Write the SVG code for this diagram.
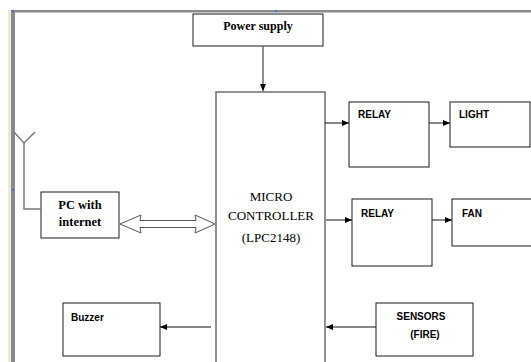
<svg xmlns="http://www.w3.org/2000/svg" width="531" height="362" viewBox="0 0 531 362">
<style>
.box{fill:#fff;stroke:#1a1a1a;stroke-width:1}
.mc{fill:#fff;stroke:#6e6e6e;stroke-width:1.5}
.serif{font-family:"Liberation Serif","Times New Roman",serif;fill:#000}
.sans{font-family:"Liberation Sans",Arial,sans-serif;font-weight:bold;font-size:10px;fill:#000}
.con{stroke:#111;stroke-width:1;fill:none}
</style>
<defs>
<marker id="ah" markerWidth="7" markerHeight="6" refX="7" refY="3" orient="auto" markerUnits="userSpaceOnUse">
<path d="M0,0 L7,3 L0,6 Z" fill="#000"/>
</marker>
</defs>
<rect x="0" y="0" width="531" height="362" fill="#fff"/>
<g id="frame">
<rect x="8" y="10" width="3" height="352" fill="#ece9d8"/>
<rect x="11" y="10" width="4" height="352" fill="#8a8a8a"/>
<rect x="11" y="10" width="520" height="2.5" fill="#8a8a8a"/>
<rect x="12" y="10" width="2" height="2" fill="#3a6fd8"/>
<rect x="275" y="10" width="2" height="2" fill="#3a6fd8"/>
<rect x="12" y="189" width="2" height="2" fill="#3a6fd8"/>
</g>
<g id="power">
<rect class="box" x="193" y="14" width="130" height="32"/>
<text class="serif" x="258" y="30" font-size="12" font-weight="bold" text-anchor="middle">Power supply</text>
</g>
<g id="micro">
<rect class="mc" x="216" y="92" width="109" height="280"/>
<text class="serif" x="271" y="201" font-size="13" text-anchor="middle">MICRO</text>
<text class="serif" x="271" y="220" font-size="13" text-anchor="middle">CONTROLLER</text>
<text class="serif" x="271" y="242" font-size="13" text-anchor="middle">(LPC2148)</text>
</g>
<g id="relay1">
<rect class="box" x="349" y="102" width="80" height="65"/>
<text class="sans" x="358" y="118">RELAY</text>
</g>
<g id="light">
<rect class="box" x="450" y="102" width="80" height="45"/>
<text class="sans" x="459" y="118">LIGHT</text>
</g>
<g id="relay2">
<rect class="box" x="352" y="199" width="80" height="67"/>
<text class="sans" x="361" y="217">RELAY</text>
</g>
<g id="fan">
<rect class="box" x="452" y="199" width="85" height="47"/>
<text class="sans" x="462" y="217">FAN</text>
</g>
<g id="pc">
<rect class="box" x="41" y="192" width="78" height="46"/>
<text class="serif" x="80" y="209" font-size="12.5" font-weight="bold" text-anchor="middle">PC with</text>
<text class="serif" x="80" y="226" font-size="12.5" font-weight="bold" text-anchor="middle">internet</text>
</g>
<g id="antenna" stroke="#7a7a7a" stroke-width="1.5" fill="none">
<path d="M14,132 L24,143 L35,132"/>
<path d="M24,143 L24,209 L41,209"/>
</g>
<g id="buzzer">
<rect class="box" x="63" y="303" width="97" height="53"/>
<text class="sans" x="71" y="321">Buzzer</text>
</g>
<g id="sensors">
<rect class="box" x="376" y="303" width="97" height="53"/>
<text class="sans" x="421" y="320" text-anchor="middle">SENSORS</text>
<text class="sans" x="425" y="338" text-anchor="middle">(FIRE)</text>
</g>
<g id="connectors">
<line x1="263" y1="46" x2="263" y2="91" stroke="#666" stroke-width="1.5" marker-end="url(#ah)"/>
<line class="con" x1="325" y1="123" x2="349" y2="123" marker-end="url(#ah)"/>
<line class="con" x1="429" y1="123" x2="450" y2="123" marker-end="url(#ah)"/>
<line class="con" x1="326" y1="220" x2="352" y2="220" marker-end="url(#ah)"/>
<line class="con" x1="432" y1="220" x2="452" y2="220" marker-end="url(#ah)"/>
<line class="con" x1="211" y1="327" x2="160" y2="327" marker-end="url(#ah)"/>
<line class="con" x1="376" y1="327" x2="326" y2="327" marker-end="url(#ah)"/>
<path d="M120,224 L141,215 L140,220.5 L196,220.5 L195,215 L215,224 L195,233 L196,227.5 L140,227.5 L141,233 Z" fill="#fff" stroke="#555" stroke-width="1"/>
</g>
</svg>
